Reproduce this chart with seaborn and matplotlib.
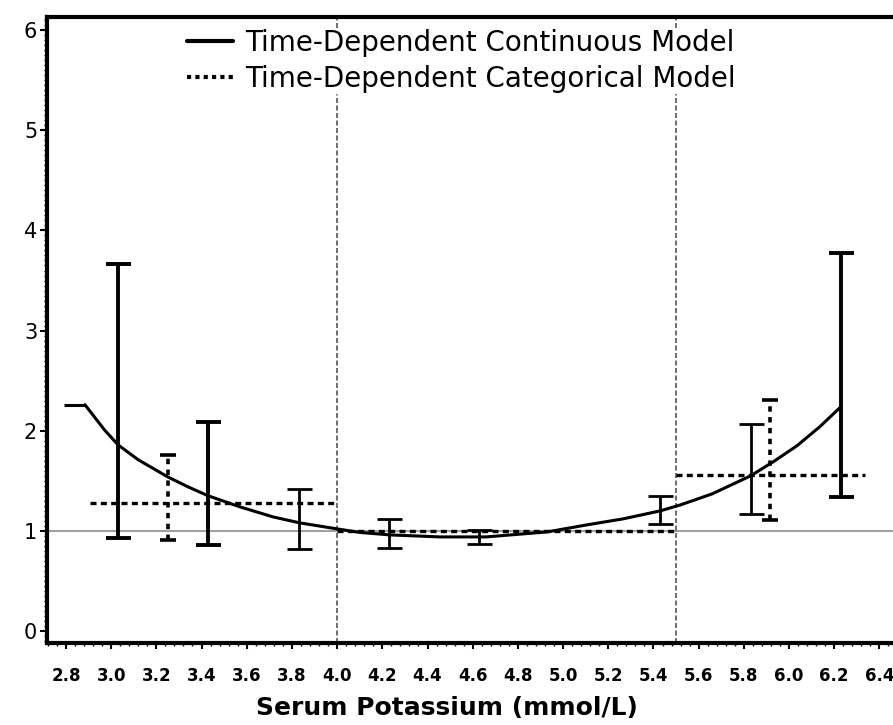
import numpy as np
import pandas as pd
import seaborn as sns
import matplotlib.pyplot as plt
from matplotlib.lines import Line2D
from matplotlib.ticker import MultipleLocator

# continuous model curve (hazard ratio vs serum potassium)
curve_k = [2.884, 2.97, 3.03, 3.12, 3.25, 3.34, 3.43, 3.57, 3.716, 3.835, 4.0,
           4.10, 4.234, 4.455, 4.66, 4.93, 5.105, 5.265, 5.43, 5.52, 5.66,
           5.83, 5.93, 6.035, 6.136, 6.225]
curve_hr = [2.26, 2.01, 1.86, 1.71, 1.54, 1.44, 1.35, 1.24, 1.14, 1.08, 1.02,
            0.985, 0.96, 0.94, 0.94, 0.99, 1.06, 1.12, 1.20, 1.26, 1.37,
            1.55, 1.69, 1.85, 2.04, 2.23]

# continuous model confidence intervals
cont_k = [3.03, 3.43, 3.83, 4.23, 4.63, 5.43, 5.83, 6.23]
cont_lo = [0.93, 0.86, 0.82, 0.83, 0.87, 1.07, 1.17, 1.34]
cont_hi = [3.66, 2.09, 1.42, 1.12, 1.01, 1.35, 2.07, 3.77]

# categorical model: step levels and intervals
cat_start = [2.905, 4.0, 5.5]
cat_end = [4.0, 5.5, 6.335]
cat_hr = [1.28, 1.0, 1.56]
cat_ci_k = [3.25, 5.915]
cat_ci_lo = [0.91, 1.11]
cat_ci_hi = [1.76, 2.31]

cutoffs = [4.0, 5.5]
labels = ['Time-Dependent Continuous Model', 'Time-Dependent Categorical Model']

sns.set_style("ticks")
plt.rcParams['font.family'] = ['DejaVu Sans']
for key in ['text.color', 'axes.labelcolor', 'xtick.color', 'ytick.color']:
    plt.rcParams[key] = 'black'

fig = plt.figure(figsize=(8.93, 7.25), dpi=100)
ax = fig.add_axes([0.0526, 0.113, 0.9474, 0.8634])

# reference line and cut-offs
ax.axhline(1.0, color='#a0a0a0', lw=1.5, zorder=1)
for c in cutoffs:
    ax.axvline(c, color='#555555', lw=1.2, ls=(0, (3, 1.5)), zorder=1)

curve = pd.DataFrame({'k': curve_k, 'hr': curve_hr})
sns.lineplot(data=curve, x='k', y='hr', color='black', lw=2.2, ax=ax, zorder=3,
             solid_joinstyle='round')
ax.hlines(curve_hr[0], 2.79, curve_k[0], color='black', lw=2.2)

# wide intervals are drawn heavier, as in the original
for k, lo, hi in zip(cont_k, cont_lo, cont_hi):
    w = 2.8 if hi - lo > 1 else 2.0
    ax.errorbar([k], [(lo + hi) / 2], yerr=[[(hi - lo) / 2], [(hi - lo) / 2]],
                fmt='none', ecolor='black', elinewidth=w, capsize=9, capthick=w, zorder=3)

ax.hlines(cat_hr, cat_start, cat_end, color='black', lw=2.4, ls=(0, (1.8, 1.3)), zorder=2)
ci = ax.errorbar(cat_ci_k, [(a + b) / 2 for a, b in zip(cat_ci_lo, cat_ci_hi)],
                 yerr=[[(b - a) / 2 for a, b in zip(cat_ci_lo, cat_ci_hi)]] * 2,
                 fmt='none', ecolor='black', elinewidth=2.6, capsize=6, capthick=2.6, zorder=3)
ci[2][0].set_linestyle((0, (1.5, 1.5)))

xt = np.arange(2.8, 6.41, 0.2)
ax.set_xlim(2.716, 6.46)
ax.set_ylim(-0.12, 6.13)
ax.set_xticks(xt)
ax.set_xticklabels([f'{v:.1f}' for v in xt], fontweight='bold', fontsize=12)
ax.set_yticks(range(0, 7))
ax.tick_params(axis='y', labelsize=15, length=5, width=1.5, direction='out', pad=2)
ax.tick_params(axis='x', length=4, width=1.5, direction='out', pad=13)
ax.xaxis.set_minor_locator(MultipleLocator(0.04))
ax.yaxis.set_minor_locator(MultipleLocator(0.05))
ax.tick_params(which='minor', length=2.5, width=1)

for s in ['left', 'bottom', 'top']:
    ax.spines[s].set_linewidth(3)
    ax.spines[s].set_color('black')
ax.spines['right'].set_visible(False)

ax.set_xlabel('Serum Potassium (mmol/L)', fontsize=18, fontweight='bold', va='center')
ax.xaxis.set_label_coords(0.473, -0.104)
ax.set_ylabel('')

handles = [Line2D([], [], color='black', lw=3),
           Line2D([], [], color='black', lw=3, ls=(0, (1, 1)))]
leg = ax.legend(handles, labels, loc='upper left', bbox_to_anchor=(0.1655, 0.981),
                frameon=True, framealpha=1, edgecolor='white', fancybox=False,
                fontsize=20, handlelength=1.65, handletextpad=0.45,
                labelspacing=0.27, borderpad=0, borderaxespad=0)
leg.set_zorder(5)

fig.savefig('out.png', dpi=100)
